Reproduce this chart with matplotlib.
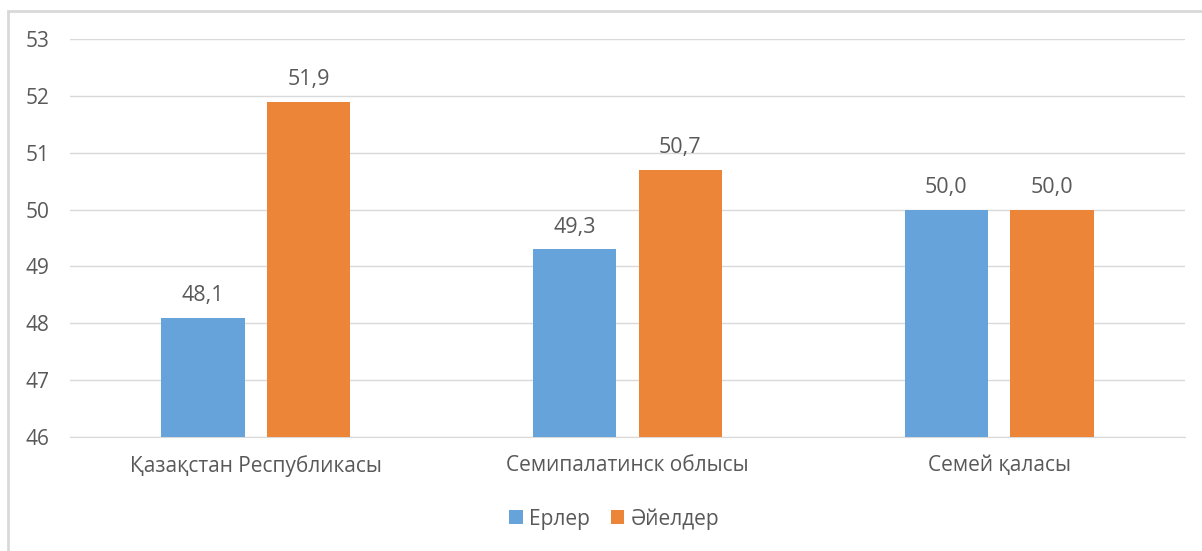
import matplotlib
matplotlib.use("Agg")
import matplotlib.pyplot as plt
from matplotlib.patches import Rectangle
import numpy as np

categories = ["Қазақстан Республикасы", "Семипалатинск облысы", "Семей қаласы"]
men = [48.1, 49.3, 50.0]
women = [51.9, 50.7, 50.0]
series_names = ["Ерлер", "Әйелдер"]
yticks = [46, 47, 48, 49, 50, 51, 52, 53]

plt.rcParams['font.family'] = ['Open Sans', 'DejaVu Sans']
text_color = "#595959"
blue = "#65A3DA"
orange = "#ED8538"

fig = plt.figure(figsize=(12.02, 5.51), dpi=100)
ax = fig.add_axes([70/1202, 1-437/551, (1185-70)/1202, (437-39)/551])

x = np.arange(len(categories))
w = 0.224
off = 0.142
ax.bar(x - off, [m - 46 for m in men], w, bottom=46, color=blue, label=series_names[0], zorder=3)
ax.bar(x + off, [v - 46 for v in women], w, bottom=46, color=orange, label=series_names[1], zorder=3)

fs = 15
lfs = 15.5
for xi, v in zip(x - off, men):
    ax.text(xi, v + 0.2, f"{v:.1f}".replace(".", ","), ha="center", va="bottom", fontsize=lfs, color=text_color)
for xi, v in zip(x + off, women):
    ax.text(xi, v + 0.2, f"{v:.1f}".replace(".", ","), ha="center", va="bottom", fontsize=lfs, color=text_color)

ax.set_xlim(-0.5, 2.5)
ax.set_ylim(46, 53)
ax.set_yticks(yticks)
ax.set_yticklabels([str(t) for t in yticks])
ax.set_xticks(x)
ax.set_xticklabels(categories)
ax.tick_params(axis="both", length=0, labelsize=fs, labelcolor=text_color)
ax.tick_params(axis="y", pad=15)
ax.tick_params(axis="x", pad=13)
ax.grid(axis="y", color="#D9D9D9", linewidth=1, zorder=0)
for s in ["top", "right", "left"]:
    ax.spines[s].set_visible(False)
ax.spines["bottom"].set_color("#D9D9D9")

leg = fig.legend(loc="center", bbox_to_anchor=(614/1202, 1-519/551), ncol=2, frameon=False,
                 fontsize=fs, handlelength=0.65, handleheight=0.65, handletextpad=0.3, columnspacing=1.0)
for t in leg.get_texts():
    t.set_color(text_color)

fig.patches.append(Rectangle((8/1202, -0.1), 1.2, 1.1-11/551, transform=fig.transFigure,
                             fill=False, edgecolor="#D9D9D9", linewidth=2))

fig.savefig("out.png", dpi=100)
